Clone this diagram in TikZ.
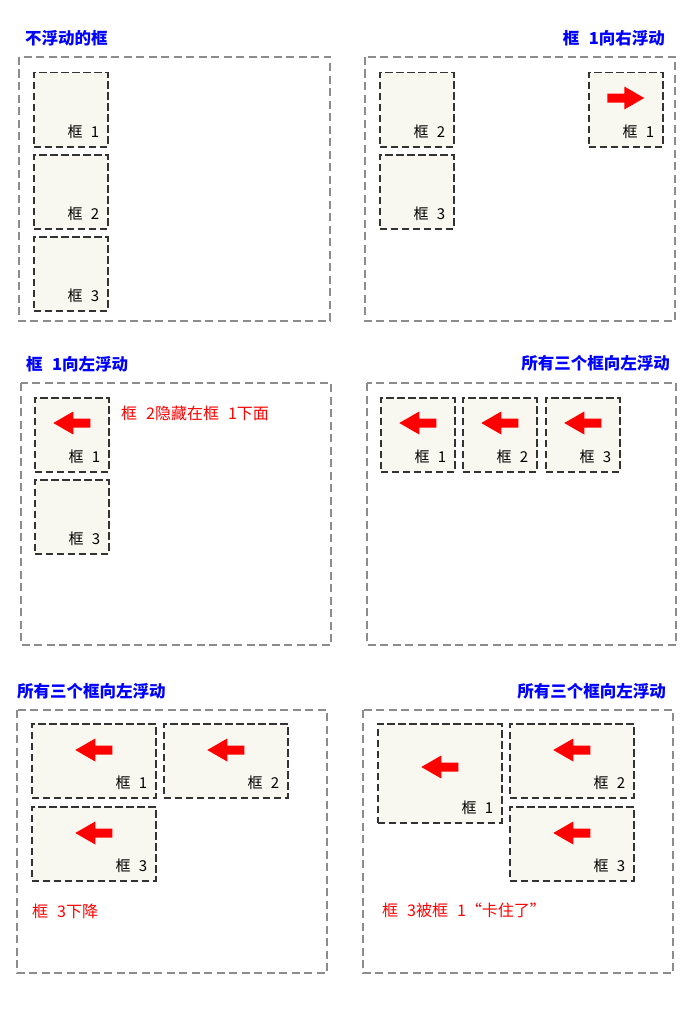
\documentclass[tikz,border=0pt]{standalone}
\usepackage{fontspec}
\setmainfont{Noto Sans CJK SC}[WordSpace=2.5]
\usetikzlibrary{calc}
\definecolor{titleblue}{HTML}{0000FF}
\definecolor{notered}{HTML}{FF0000}
\definecolor{outergray}{HTML}{8C8C8C}
\definecolor{boxgray}{HTML}{333333}
\definecolor{boxfill}{HTML}{F8F7F0}
\tikzset{
  panel/.style={draw=outergray, line width=1.2pt, dash pattern=on 8pt off 4.5pt},
  floatbox/.style={draw=boxgray, fill=boxfill, line width=1.5pt, dash pattern=on 7.5pt off 3.5pt,
    inner sep=0pt, anchor=north west, minimum width=74pt, minimum height=74pt},
  widebox/.style={floatbox, minimum width=124pt},
  boxlabel/.style={anchor=base east, inner sep=0pt, font=\fontsize{15}{17}\selectfont},
  paneltitle/.style={titleblue, inner sep=0pt, font=\bfseries\fontsize{16.5}{18}\selectfont},
  note/.style={notered, anchor=west, inner sep=0pt, font=\fontsize{16}{18}\selectfont},
  larrow/.pic={\fill[notered] (-18.5,0) -- (1.5,-11.5) -- (1.5,-4.5) -- (18.5,-4.5)
    -- (18.5,4.5) -- (1.5,4.5) -- (1.5,11.5) -- cycle;},
  rarrow/.pic={\fill[notered] (18.5,0) -- (-1.5,-11.5) -- (-1.5,-4.5) -- (-18.5,-4.5)
    -- (-18.5,4.5) -- (-1.5,4.5) -- (-1.5,11.5) -- cycle;}
}
\begin{document}
\begin{tikzpicture}[x=1pt, y=-1pt]
  \useasboundingbox[fill=white] (0,0) rectangle (699,1033);

  % no float
  \node[paneltitle, anchor=west] (t1) at (25,38) {不浮动的框};
  \draw[panel] (19,57) rectangle (330,321);
  \node[floatbox] (a1) at (33,72) {};
  \node[floatbox] (a2) at (33,154) {};
  \node[floatbox] (a3) at (33,236) {};
  \foreach \n in {1,2,3} {\node[boxlabel] (la\n) at ($(a\n.south east)+(-9,-10)$) {框 \n};}

  % box 1 to the right
  \node[paneltitle, anchor=east] (t2) at (665,38) {框 1向右浮动};
  \draw[panel] (365,57) rectangle (675,321);
  \node[floatbox] (b2) at (379,72) {};
  \node[floatbox] (b3) at (379,154) {};
  \node[floatbox] (b1) at (588,72) {};
  \foreach \n in {1,2,3} {\node[boxlabel] (lb\n) at ($(b\n.south east)+(-9,-10)$) {框 \n};}
  \pic at ($(b1.north)+(0,26)$) {rarrow};

  % box 1 to the left
  \node[paneltitle, anchor=west] (t3) at (26,364) {框 1向左浮动};
  \draw[panel] (21,383) rectangle (331,645);
  \node[floatbox] (c1) at (34,397) {};
  \node[floatbox] (c3) at (34,479) {};
  \foreach \n in {1,3} {\node[boxlabel] (lc\n) at ($(c\n.south east)+(-9,-10)$) {框 \n};}
  \pic at ($(c1.north)+(0,26)$) {larrow};
  \node[note] (n3) at (121,413) {框 2隐藏在框 1下面};

  % all three to the left
  \node[paneltitle, anchor=east] (t4) at (670,363) {所有三个框向左浮动};
  \draw[panel] (367,383) rectangle (676,645);
  \node[floatbox] (d1) at (380,397) {};
  \node[floatbox] (d2) at (462,397) {};
  \node[floatbox] (d3) at (545,397) {};
  \foreach \n in {1,2,3} {
    \node[boxlabel] (ld\n) at ($(d\n.south east)+(-9,-10)$) {框 \n};
    \pic at ($(d\n.north)+(0,26)$) {larrow};
  }

  % three wide boxes, box 3 drops
  \node[paneltitle, anchor=west] (t5) at (17,691) {所有三个框向左浮动};
  \draw[panel] (17,710) rectangle (327,973);
  \node[widebox] (e1) at (31,723) {};
  \node[widebox] (e2) at (163,723) {};
  \node[widebox] (e3) at (31,806) {};
  \foreach \n in {1,2,3} {
    \node[boxlabel] (le\n) at ($(e\n.south east)+(-9,-10)$) {框 \n};
    \pic at ($(e\n.north)+(0,27)$) {larrow};
  }
  \node[note] (n5) at (32,911) {框 3下降};

  % box 3 caught on box 1
  \node[paneltitle, anchor=east] (t6) at (666,691) {所有三个框向左浮动};
  \draw[panel] (363,710) rectangle (673,973);
  \node[widebox, minimum height=99pt] (f1) at (377,723) {};
  \node[widebox] (f2) at (509,723) {};
  \node[widebox] (f3) at (509,806) {};
  \foreach \n in {1,2,3} {\node[boxlabel] (lf\n) at ($(f\n.south east)+(-9,-10)$) {框 \n};}
  \pic at ($(f1.north)+(0,44)$) {larrow};
  \pic at ($(f2.north)+(0,27)$) {larrow};
  \pic at ($(f3.north)+(0,27)$) {larrow};
  \node[note] (n6) at (382,910) {框 3被框 1“卡住了”};
\end{tikzpicture}
\end{document}
